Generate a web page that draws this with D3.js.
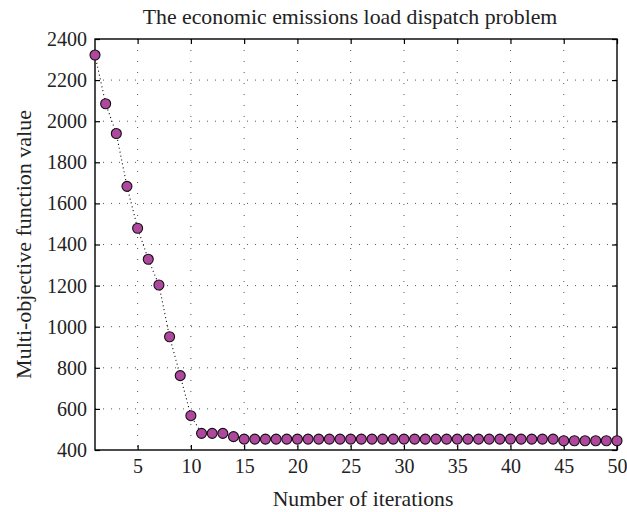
<!DOCTYPE html>
<html><head><meta charset="utf-8">
<script src="https://cdn.jsdelivr.net/npm/d3@7"></script>
<style>
body{margin:0;background:#fff;}
text{font-family:"Liberation Serif","DejaVu Serif",serif;fill:#222;}
</style></head>
<body><svg id="c" width="627" height="512"></svg>
<script>
const iterations = d3.range(1, 51);
const values = [2322,2085,1940,1683,1479,1328,1203,951,762,567,
  481,481,481,465,453,453,453,453,453,453,
  453,453,453,453,453,453,453,453,453,453,
  453,453,453,453,453,453,453,453,453,453,
  453,453,453,453,445,445,445,445,445,445];
const xTicks = [5,10,15,20,25,30,35,40,45,50];
const yTicks = [400,600,800,1000,1200,1400,1600,1800,2000,2200,2400];
const title = "The economic emissions load dispatch problem";
const xLabel = "Number of iterations";
const yLabel = "Multi-objective function value";

const FONT = '"Liberation Serif","DejaVu Serif",serif';
const svg = d3.select("#c");
const L=95, R=617, T=39, B=450;
const x = d3.scaleLinear().domain([1,50]).range([L,R]);
const y = d3.scaleLinear().domain([400,2400]).range([B,T]);

// grid
const g = svg.append("g");
g.selectAll(".vg").data(xTicks.filter(d=>d<50)).join("line")
  .attr("x1",d=>x(d)).attr("x2",d=>x(d)).attr("y1",T).attr("y2",B)
  .attr("stroke","#555").attr("stroke-width",1).attr("stroke-dasharray","1,10");
g.selectAll(".hg").data(yTicks.filter(d=>d>400&&d<2400)).join("line")
  .attr("x1",L).attr("x2",R).attr("y1",d=>y(d)).attr("y2",d=>y(d))
  .attr("stroke","#555").attr("stroke-width",1).attr("stroke-dasharray","1,7");

// axes
const fmt = d3.format("d");
const xb = svg.append("g").attr("transform",`translate(0,${B})`)
  .call(d3.axisBottom(x).tickValues(xTicks).tickFormat(fmt).tickSizeInner(-5).tickSizeOuter(0).tickPadding(9));
const xt = svg.append("g").attr("transform",`translate(0,${T})`)
  .call(d3.axisTop(x).tickValues(xTicks).tickSizeInner(-5).tickSizeOuter(0).tickFormat(""));
const yl = svg.append("g").attr("transform",`translate(${L},0)`)
  .call(d3.axisLeft(y).tickValues(yTicks).tickFormat(fmt).tickSizeInner(-5).tickSizeOuter(0).tickPadding(8));
const yr = svg.append("g").attr("transform",`translate(${R},0)`)
  .call(d3.axisRight(y).tickValues(yTicks).tickSizeInner(-5).tickSizeOuter(0).tickFormat(""));
[xb,xt,yl,yr].forEach(a=>{
  a.attr("font-family",FONT);
  a.select(".domain").remove();
  a.selectAll(".tick line").attr("stroke","#000").attr("stroke-width",1.2);
  a.selectAll("text").style("font-family",FONT)
    .style("font-size","20px").attr("fill","#222");
});
svg.append("rect").attr("x",L).attr("y",T).attr("width",R-L).attr("height",B-T)
  .attr("fill","none").attr("stroke","#000").attr("stroke-width",1.4);

// line
svg.append("path").datum(iterations.map((d,i)=>[d,values[i]]))
  .attr("fill","none").attr("stroke","#000").attr("stroke-width",1.1)
  .attr("stroke-dasharray","1,3")
  .attr("d",d3.line().x(d=>x(d[0])).y(d=>y(d[1])));

// points
svg.selectAll(".pt").data(iterations).join("circle")
  .attr("cx",d=>x(d)).attr("cy",(d,i)=>y(values[i])).attr("r",5)
  .attr("fill","#b0479e").attr("stroke","#111").attr("stroke-width",1.1);

// labels
svg.append("text").attr("x",(L+R)/2-6).attr("y",24).attr("text-anchor","middle")
  .style("font-family",FONT).style("font-size","21.8px").text(title);
svg.append("text").attr("x",(L+R)/2+7).attr("y",506).attr("text-anchor","middle")
  .style("font-family",FONT).style("font-size","21.7px").text(xLabel);
svg.append("text").attr("transform",`translate(31,${(T+B)/2}) rotate(-90)`)
  .attr("text-anchor","middle").style("font-family",FONT).style("font-size","22px").text(yLabel);
</script></body></html>
